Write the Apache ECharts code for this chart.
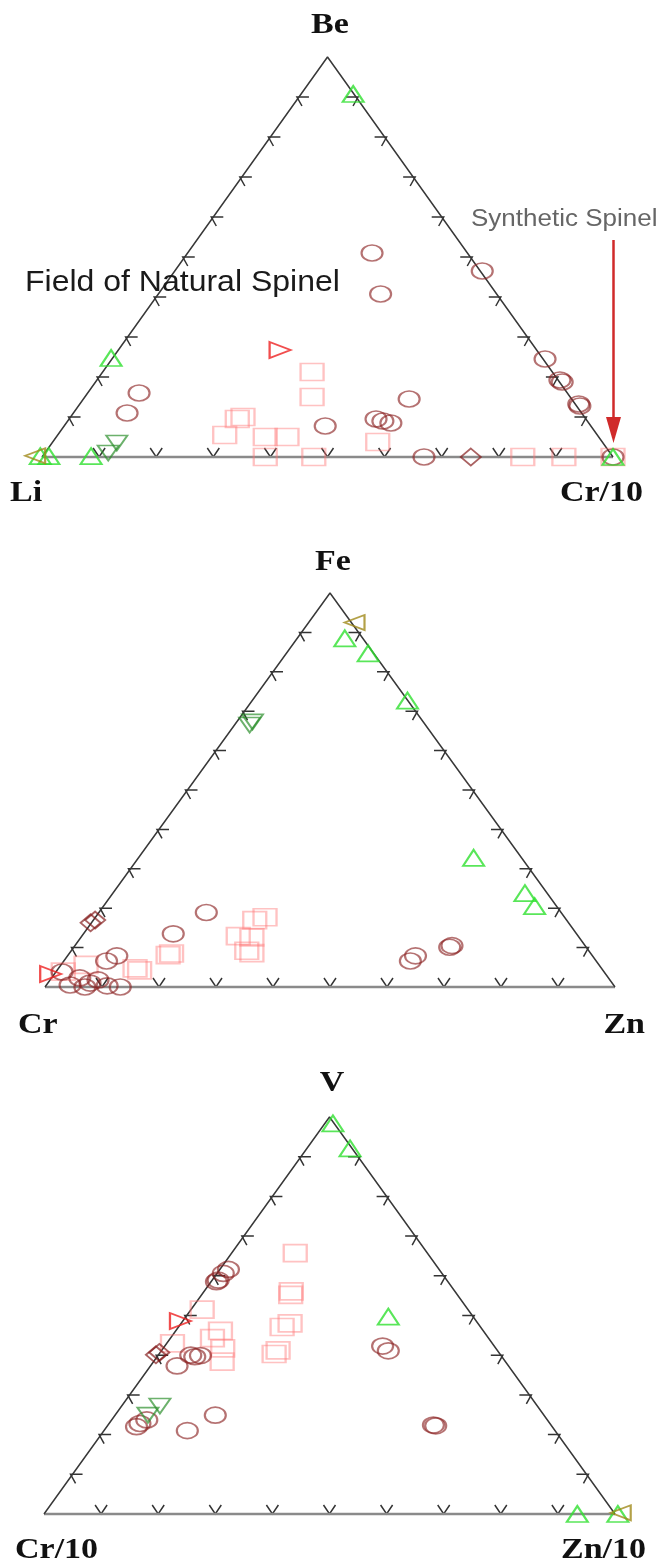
<!DOCTYPE html>
<html><head><meta charset="utf-8">
<script src="https://cdn.jsdelivr.net/npm/echarts@6/dist/echarts.min.js"></script>
<style>html,body{margin:0;padding:0;background:#fff}#c{width:661px;height:1564px}</style>
</head><body><div id="c"></div>
<script>
// Values: x = % position along the base (left corner = 0, right corner = 100),
//         y = % of the triangle height (base = 0, apex = 100).

// ---- Panel 1: Be / Li / Cr/10
var p1Labels = ['Be', 'Li', 'Cr/10'];
var p1Circles = [[57.8,51.0],[59.3,40.75],[77.1,46.5],[88.1,24.5],[90.7,19.25],[91.1,18.75],[94.0,13.25],[94.2,12.75],[17.0,16.0],[14.9,11.0],[49.6,7.75],[64.3,14.5],[58.5,9.5],[59.7,9.0],[61.1,8.5],[66.9,0],[100,0]];
var p1Squares = [[47.3,21.25],[47.3,15.0],[35.2,10.0],[34.2,9.5],[32.0,5.5],[39.1,5.0],[42.9,5.0],[58.8,3.75],[39.1,0],[47.6,0],[84.2,0],[91.4,0],[100,0]];
var p1Diamonds = [[75.1,0]];
var p1GreenUp = [[54.5,90.75],[12.1,24.75],[-0.3,0.2],[1.2,0.2],[8.6,0.2],[100,0]];
var p1GreenDown = [[13.1,3.5],[11.6,1.0]];
var p1RedRight = [[41.7,26.75]];
var p1OliveLeft = [[-1.2,0.3]];

// ---- Panel 2: Fe / Cr / Zn
var p2Labels = ['Fe', 'Cr', 'Zn'];
var p2Circles = [[28.3,18.9],[22.5,13.5],[71.4,10.5],[71.0,10.1],[65.0,7.9],[64.1,6.6],[12.6,7.9],[10.8,6.6],[3.0,3.8],[4.4,0.5],[6.1,2.3],[7.9,1.0],[9.3,1.8],[10.9,0.3],[13.2,0],[7.0,0]];
var p2Squares = [[38.6,17.7],[36.8,17.0],[33.9,12.9],[36.3,12.6],[35.4,9.2],[36.3,8.6],[21.6,8.1],[22.2,8.5],[15.8,4.7],[16.6,4.2],[7.2,5.6],[3.2,3.9]];
var p2Diamonds = [[8.8,17.0],[8.0,16.3]];
var p2GreenUp = [[52.6,88.5],[56.7,84.7],[63.6,72.7],[75.2,32.8],[84.2,23.8],[85.9,20.5]];
var p2GreenDown = [[36.4,67.3],[35.9,66.5]];
var p2RedRight = [[1.0,3.3]];
var p2OliveLeft = [[54.3,92.5]];

// ---- Panel 3: V / Cr/10 / Zn/10
var p3Labels = ['V', 'Cr/10', 'Zn/10'];
var p3Circles = [[32.3,61.6],[31.4,60.6],[30.5,58.9],[30.2,58.5],[26.4,39.6],[27.4,39.9],[25.7,40.0],[23.3,37.3],[18.0,23.7],[16.8,22.8],[16.2,22.0],[25.1,21.0],[30.0,24.9],[59.3,42.3],[60.3,41.1],[68.2,22.4],[68.6,22.2]];
var p3Squares = [[44.0,65.7],[43.3,56.1],[43.2,55.2],[43.1,48.0],[41.7,47.1],[41.0,41.2],[40.3,40.3],[27.7,51.5],[22.5,43.0],[30.9,46.1],[29.5,44.3],[31.3,41.7],[31.2,38.4]];
var p3Diamonds = [[20.2,40.7],[19.6,40.1]];
var p3GreenUp = [[50.6,98.4],[53.6,92.1],[60.3,49.7],[93.4,0],[100.5,0]];
var p3GreenDown = [[20.3,27.2],[18.2,24.9]];
var p3RedRight = [[23.9,48.6]];
var p3OliveLeft = [[101,0.3]];

// tick positions along every edge (%)
var tickFractions = [10,20,30,40,50,60,70,80,90];

var panels = [
  {labels:p1Labels, circles:p1Circles, squares:p1Squares, diamonds:p1Diamonds, up:p1GreenUp, down:p1GreenDown, right:p1RedRight, left:p1OliveLeft},
  {labels:p2Labels, circles:p2Circles, squares:p2Squares, diamonds:p2Diamonds, up:p2GreenUp, down:p2GreenDown, right:p2RedRight, left:p2OliveLeft},
  {labels:p3Labels, circles:p3Circles, squares:p3Squares, diamonds:p3Diamonds, up:p3GreenUp, down:p3GreenDown, right:p3RedRight, left:p3OliveLeft}
];

// layout (pixel boxes of the three triangles)
var boxes = [
  {left:42, top:57, width:571, height:400},
  {left:45, top:593, width:570, height:394},
  {left:44, top:1117, width:571, height:397}
];

var chart = echarts.init(document.getElementById('c'), null, {renderer:'canvas'});

var grids = [], xAxes = [], yAxes = [], series = [];
var tickData = [];
[0,1,2].forEach(function(e){ tickFractions.forEach(function(f){ tickData.push([e,f]); }); });

function renderTicks(params, api){
  var edge = api.value(0), f = api.value(1), p, a1, a2, s;
  if (edge === 0) { p = api.coord([f,0]); a1=[-6,-9]; a2=[6,-9]; s=[0,0]; }
  else if (edge === 1) { p = api.coord([f/2,f]); a1=[12,0]; a2=[5,9]; s=[-2,0]; }
  else { p = api.coord([100-f/2,f]); a1=[-12,0]; a2=[-5,9]; s=[2,0]; }
  var v = [p[0]+s[0], p[1]+s[1]];
  return {type:'polyline', shape:{points:[[v[0]+a1[0],v[1]+a1[1]], v, [v[0]+a2[0],v[1]+a2[1]]]},
          style:{stroke:'#333', lineWidth:1.5, fill:null}};
}

function hollow(color, w){ return {color:'rgba(0,0,0,0)', borderColor:color, borderWidth:w}; }

panels.forEach(function(pd, i){
  var b = boxes[i];
  grids.push({left:b.left, top:b.top, width:b.width, height:b.height, containLabel:false});
  xAxes.push({type:'value', gridIndex:i, min:0, max:100, show:false});
  yAxes.push({type:'value', gridIndex:i, min:0, max:100, show:false});
  var ax = {xAxisIndex:i, yAxisIndex:i, animation:false, silent:true, clip:false};
  series.push(Object.assign({type:'line', data:[[0,0],[100,0]], symbol:'none', lineStyle:{color:'#8a8a8a', width:2.6}, z:1}, ax));
  series.push(Object.assign({type:'line', data:[[0,0],[50,100],[100,0]], symbol:'none', lineStyle:{color:'#383838', width:1.5}, z:1}, ax));
  series.push(Object.assign({type:'custom', data:tickData, renderItem:renderTicks, z:1}, ax));
  series.push(Object.assign({type:'scatter', data:pd.squares, symbol:'rect', symbolSize:[23,17], itemStyle:hollow('rgba(255,115,115,0.55)',2), z:3}, ax));
  series.push(Object.assign({type:'scatter', data:pd.circles, symbol:'circle', symbolSize:[21,16], itemStyle:hollow('rgba(140,35,35,0.8)',1.9), z:4}, ax));
  series.push(Object.assign({type:'scatter', data:pd.diamonds, symbol:'diamond', symbolSize:[20,17], itemStyle:hollow('rgba(130,25,25,0.85)',1.9), z:4}, ax));
  series.push(Object.assign({type:'scatter', data:pd.up, symbol:'triangle', symbolSize:[21,16], itemStyle:hollow('#2fe02f',2), z:5}, ax));
  series.push(Object.assign({type:'scatter', data:pd.down, symbol:'path://M0,0L2,0L1,1.5Z', symbolSize:[21,15], itemStyle:hollow('rgba(40,140,40,0.85)',1.9), z:5}, ax));
  series.push(Object.assign({type:'scatter', data:pd.right, symbol:'path://M0,0L1.5,1L0,2Z', symbolSize:[21,16], itemStyle:hollow('#ee2020',2), z:5}, ax));
  series.push(Object.assign({type:'scatter', data:pd.left, symbol:'path://M1.5,0L0,1L1.5,2Z', symbolSize:[20,15], itemStyle:hollow('#a08a1a',1.9), z:5}, ax));
});

var labelFont = 'bold 34px "Liberation Serif", "DejaVu Serif", serif';
function label(text, x, y, align){
  return {type:'text', x:x, y:y, scaleY:0.86, silent:true, z:10,
    style:{text:text, font:labelFont, fill:'#111', align:align, verticalAlign:'middle', textAlign:align, textVerticalAlign:'middle'}};
}
var graphics = [
  label(p1Labels[0], 330, 25, 'center'), label(p1Labels[1], 10, 493, 'left'), label(p1Labels[2], 643, 493, 'right'),
  label(p2Labels[0], 333, 562, 'center'), label(p2Labels[1], 18, 1025, 'left'), label(p2Labels[2], 645, 1025, 'right'),
  label(p3Labels[0], 332, 1083, 'center'), label(p3Labels[1], 15, 1550, 'left'), label(p3Labels[2], 646, 1550, 'right'),
  {type:'text', x:25, y:283, scaleY:0.92, silent:true, z:10,
    style:{text:'Field of Natural Spinel', font:'32px "Liberation Sans", Arial, sans-serif', fill:'#1a1a1a', align:'left', verticalAlign:'middle', textAlign:'left', textVerticalAlign:'middle'}},
  {type:'text', x:471, y:219, scaleY:0.92, silent:true, z:10,
    style:{text:'Synthetic Spinel', font:'26px "Liberation Sans", Arial, sans-serif', fill:'#666', align:'left', verticalAlign:'middle', textAlign:'left', textVerticalAlign:'middle'}},
  {type:'line', silent:true, z:10, shape:{x1:613.5, y1:240, x2:613.5, y2:420}, style:{stroke:'#d02a2a', lineWidth:2.5}},
  {type:'polygon', silent:true, z:10, shape:{points:[[606,417],[621,417],[613.5,443]]}, style:{fill:'#d02a2a'}}
];

chart.setOption({
  animation:false,
  backgroundColor:'#fff',
  grid:grids, xAxis:xAxes, yAxis:yAxes, series:series,
  graphic:{elements:graphics}
});
</script></body></html>
